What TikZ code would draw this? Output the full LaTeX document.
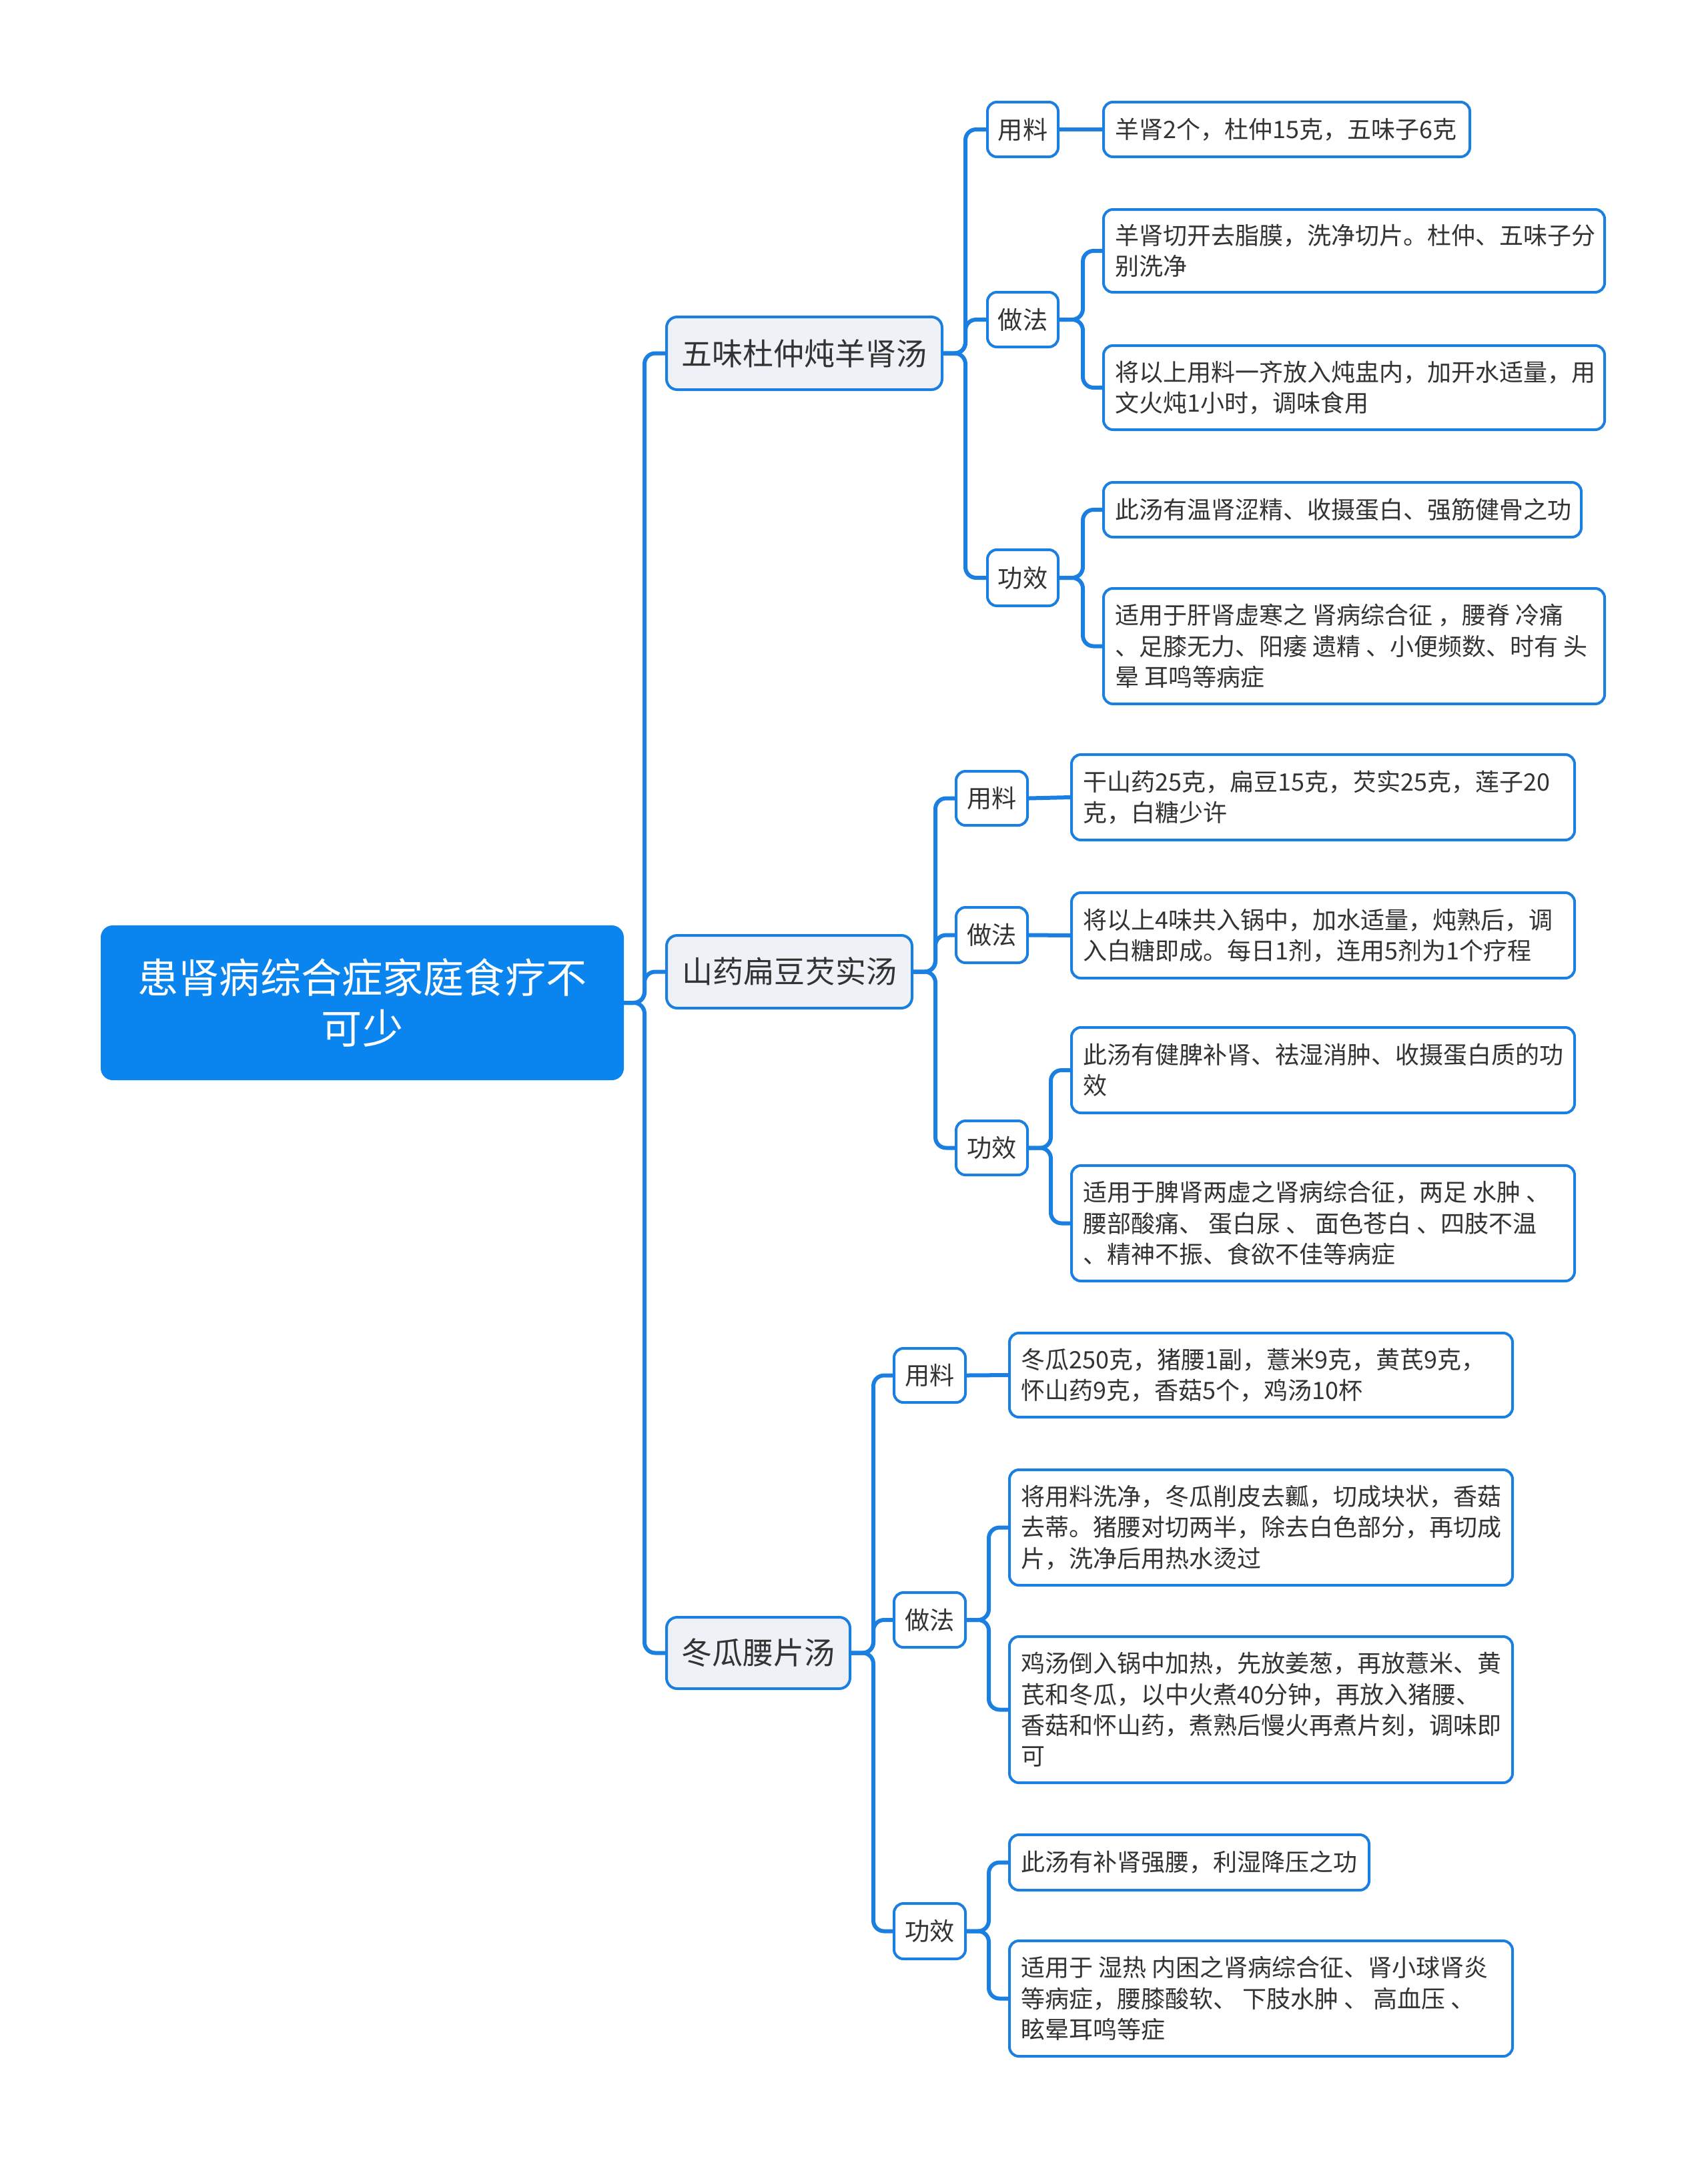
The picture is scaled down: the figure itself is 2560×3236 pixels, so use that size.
\documentclass[tikz,border=0pt]{standalone}
\usepackage{fontspec}
\setmainfont{Noto Sans CJK SC}
\usetikzlibrary{fit}
\definecolor{lineblue}{HTML}{1A7FE0}
\definecolor{rootblue}{HTML}{0A84EE}
\definecolor{lvlgray}{HTML}{EEF2F6}
\definecolor{txtgray}{HTML}{333333}
\tikzset{
  rootbox/.style={inner sep=0pt, fill=rootblue, draw=rootblue, line width=1pt, rounded corners=4pt},
  lonebox/.style={inner sep=0pt, fill=lvlgray, draw=lineblue, line width=1pt, rounded corners=4pt},
  ltwobox/.style={inner sep=0pt, fill=white, draw=lineblue, line width=1pt, rounded corners=3.5pt},
  leafbox/.style={inner sep=0pt, fill=white, draw=lineblue, line width=1pt, rounded corners=3.5pt},
  roottext/.style={text=white, font=\fontsize{15.3}{19}\selectfont, align=center, inner sep=0pt},
  lonetext/.style={text=txtgray, font=\fontsize{11.5}{14}\selectfont, inner sep=0pt},
  ltwotext/.style={text=txtgray, font=\fontsize{9.3}{11}\selectfont, inner sep=0pt},
  leaftext/.style={text=txtgray, font=\fontsize{9}{11.6}\selectfont, align=left, inner sep=0pt, anchor=west},
  conn/.style={draw=lineblue, line width=1.5pt, rounded corners=4pt},
}
\newcommand\mkleaf[3]{%
  \node[leafbox, fit={#2}] (#1) {};
  \node[leaftext] (#1-t) at ([xshift=4.7pt]#1.west) {#3};
}
\newcommand\mkltwo[3]{%
  \node[ltwobox, fit={#2}] (#1) {};
  \node[ltwotext] (#1-t) at (#1.center) {#3};
}
\newcommand\mklone[3]{%
  \node[lonebox, fit={#2}] (#1) {};
  \node[lonetext] (#1-t) at (#1.center) {#3};
}
\begin{document}
\begin{tikzpicture}[x=0.25pt, y=-0.25pt]
\useasboundingbox (0,0) rectangle (2560,3236);
% root
\node[rootbox, fit={(153,1389) (933,1617)}] (root) {};
\node[roottext] (root-t) at (root.center) {患肾病综合症家庭食疗不\\可少};
% level 1
\mklone{A}{(999,475) (1412,584)}{五味杜仲炖羊肾汤}
\mklone{B}{(999,1402) (1367,1511)}{山药扁豆芡实汤}
\mklone{C}{(999,2424) (1274,2531)}{冬瓜腰片汤}
% branch A
\mkltwo{A1}{(1480,153) (1586,235)}{用料}
\mkltwo{A2}{(1480,438) (1586,520)}{做法}
\mkltwo{A3}{(1480,824) (1586,908)}{功效}
\mkleaf{A1a}{(1654,153) (2203,235)}{羊肾2个，杜仲15克，五味子6克}
\mkleaf{A2a}{(1654,314) (2405,438)}{羊肾切开去脂膜，洗净切片。杜仲、五味子分\\别洗净}
\mkleaf{A2b}{(1654,518) (2405,644)}{将以上用料一齐放入炖盅内，加开水适量，用\\文火炖1小时，调味食用}
\mkleaf{A3a}{(1654,723) (2370,805)}{此汤有温肾涩精、收摄蛋白、强筋健骨之功}
\mkleaf{A3b}{(1654,882) (2405,1055)}{适用于肝肾虚寒之 肾病综合征 ，腰脊 冷痛\\、足膝无力、阳痿 遗精 、小便频数、时有 头\\晕 耳鸣等病症}
% branch B
\mkltwo{B1}{(1433,1156) (1540,1237)}{用料}
\mkltwo{B2}{(1433,1360) (1540,1443)}{做法}
\mkltwo{B3}{(1433,1680) (1540,1761)}{功效}
\mkleaf{B1a}{(1606,1131) (2360,1259)}{干山药25克，扁豆15克，芡实25克，莲子20\\克，白糖少许}
\mkleaf{B2a}{(1606,1338) (2360,1466)}{将以上4味共入锅中，加水适量，炖熟后，调\\入白糖即成。每日1剂，连用5剂为1个疗程}
\mkleaf{B3a}{(1606,1540) (2360,1668)}{此汤有健脾补肾、祛湿消肿、收摄蛋白质的功\\效}
\mkleaf{B3b}{(1606,1747) (2360,1920)}{适用于脾肾两虚之肾病综合征，两足 水肿 、\\腰部酸痛、 蛋白尿 、 面色苍白 、四肢不温\\、精神不振、食欲不佳等病症}
% branch C
\mkltwo{C1}{(1340,2021) (1447,2102)}{用料}
\mkltwo{C2}{(1340,2387) (1447,2469)}{做法}
\mkltwo{C3}{(1340,2853) (1447,2936)}{功效}
\mkleaf{C1a}{(1513,1998) (2267,2124)}{冬瓜250克，猪腰1副，薏米9克，黄芪9克，\\怀山药9克，香菇5个，鸡汤10杯}
\mkleaf{C2a}{(1513,2203) (2267,2376)}{将用料洗净，冬瓜削皮去瓤，切成块状，香菇\\去蒂。猪腰对切两半，除去白色部分，再切成\\片，洗净后用热水烫过}
\mkleaf{C2b}{(1513,2453) (2267,2672)}{鸡汤倒入锅中加热，先放姜葱，再放薏米、黄\\芪和冬瓜，以中火煮40分钟，再放入猪腰、\\香菇和怀山药，煮熟后慢火再煮片刻，调味即\\可}
\mkleaf{C3a}{(1513,2750) (2052,2833)}{此汤有补肾强腰，利湿降压之功}
\mkleaf{C3b}{(1513,2909) (2267,3082)}{适用于 湿热 内困之肾病综合征、肾小球肾炎\\等病症，腰膝酸软、 下肢水肿 、 高血压 、\\眩晕耳鸣等症}
% connectors
\foreach \c in {A,B,C} \draw[conn] (root.east) -- ++(31,0) |- (\c.west);
\foreach \c in {A1,A2,A3} \draw[conn] (A.east) -- ++(33,0) |- (\c.west);
\foreach \c in {B1,B2,B3} \draw[conn] (B.east) -- ++(33,0) |- (\c.west);
\foreach \c in {C1,C2,C3} \draw[conn] (C.east) -- ++(33,0) |- (\c.west);
\draw[conn] (A1.east) -- (A1a.west);
\foreach \c in {A2a,A2b} \draw[conn] (A2.east) -- ++(35,0) |- (\c.west);
\foreach \c in {A3a,A3b} \draw[conn] (A3.east) -- ++(35,0) |- (\c.west);
\draw[conn] (B1.east) -- (B1a.west);
\draw[conn] (B2.east) -- (B2a.west);
\foreach \c in {B3a,B3b} \draw[conn] (B3.east) -- ++(33,0) |- (\c.west);
\draw[conn] (C1.east) -- (C1a.west);
\foreach \c in {C2a,C2b} \draw[conn] (C2.east) -- ++(33,0) |- (\c.west);
\foreach \c in {C3a,C3b} \draw[conn] (C3.east) -- ++(33,0) |- (\c.west);
\end{tikzpicture}
\end{document}
